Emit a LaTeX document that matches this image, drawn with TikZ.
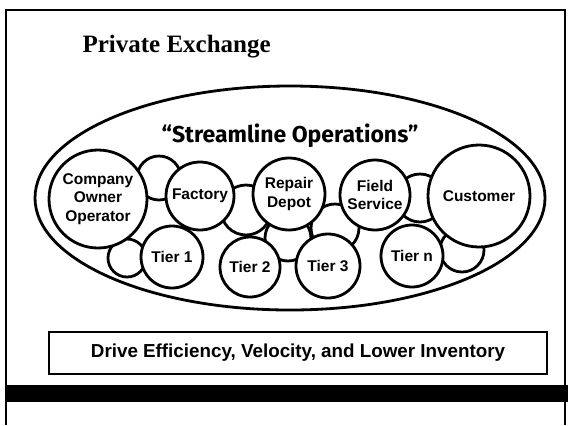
\documentclass[tikz,border=0pt]{standalone}
\usepackage{fontspec}
\setmainfont{Liberation Serif}
\newfontfamily\labelfont{Liberation Sans}
\newfontfamily\sloganfont{Fira Sans}
\usepackage{tikz}
\usetikzlibrary{shapes.geometric}

\begin{document}
\begin{tikzpicture}
    [x=1bp,y=-1bp,
    frame/.style={line width=2bp,black},
    rim/.style={draw,ellipse,line width=2.8bp,inner sep=0pt},
    spare/.style={draw,circle,fill=white,line width=2.8bp,inner sep=0pt},
    party/.style={draw,circle,fill=white,line width=2.8bp,inner sep=0pt,align=center,
        font=\labelfont\bfseries\fontsize{15.5bp}{18.3bp}\selectfont},
    goalbox/.style={draw,line width=1.6bp,minimum width=498bp,minimum height=42bp,
        font=\labelfont\bfseries\fontsize{18.8bp}{22bp}\selectfont}]

\useasboundingbox (0,0) rectangle (568,425);

%draw frame and bar
\draw[frame] (6,425) -- (6,10) -- (565,10) -- (565,425);
\fill[black] (6,385) rectangle (568,402);

%title
\node[anchor=base west,font=\bfseries\fontsize{25bp}{30bp}\selectfont] (title) at (79,52) {Private Exchange};

%exchange ellipse
\node[rim,minimum width=510bp,minimum height=224bp] (exchange) at (290,198) {};
\node[font=\sloganfont\bfseries\fontsize{23bp}{28bp}\selectfont] (slogan) at (290,136) {“Streamline Operations”};

%background circles
\node[spare,minimum size=44bp] (b1) at (159,178) {};
\node[spare,minimum size=38bp] (b2) at (127,258) {};
\node[spare,minimum size=50bp] (b3) at (246,210) {};
\node[spare,minimum size=46bp] (b4) at (288,238) {};
\node[spare,minimum size=48bp] (b5) at (335,228) {};
\node[spare,minimum size=48bp] (b6) at (420,198) {};
\node[spare,minimum size=44bp] (b7) at (462,250) {};

%members of the exchange
\node[party,minimum size=98bp] (company) at (98,199) {Company\\Owner\\Operator};
\node[party,minimum size=68bp] (factory) at (200,196) {Factory};
\node[party,minimum size=72bp] (repair) at (289,194) {Repair\\Depot};
\node[party,minimum size=70bp] (field) at (375,195) {Field\\Service};
\node[party,minimum size=102bp] (customer) at (479,196) {Customer};
\node[party,minimum size=62bp] (tier1) at (172,257) {Tier 1};
\node[party,minimum size=60bp] (tier2) at (250,267) {Tier 2};
\node[party,minimum size=64bp] (tier3) at (328,266) {Tier 3};
\node[party,minimum size=62bp] (tiern) at (412,256) {Tier n};

%goal
\node[goalbox] (goal) at (298,353) {Drive Efficiency, Velocity, and Lower Inventory};

\end{tikzpicture}
\end{document}
